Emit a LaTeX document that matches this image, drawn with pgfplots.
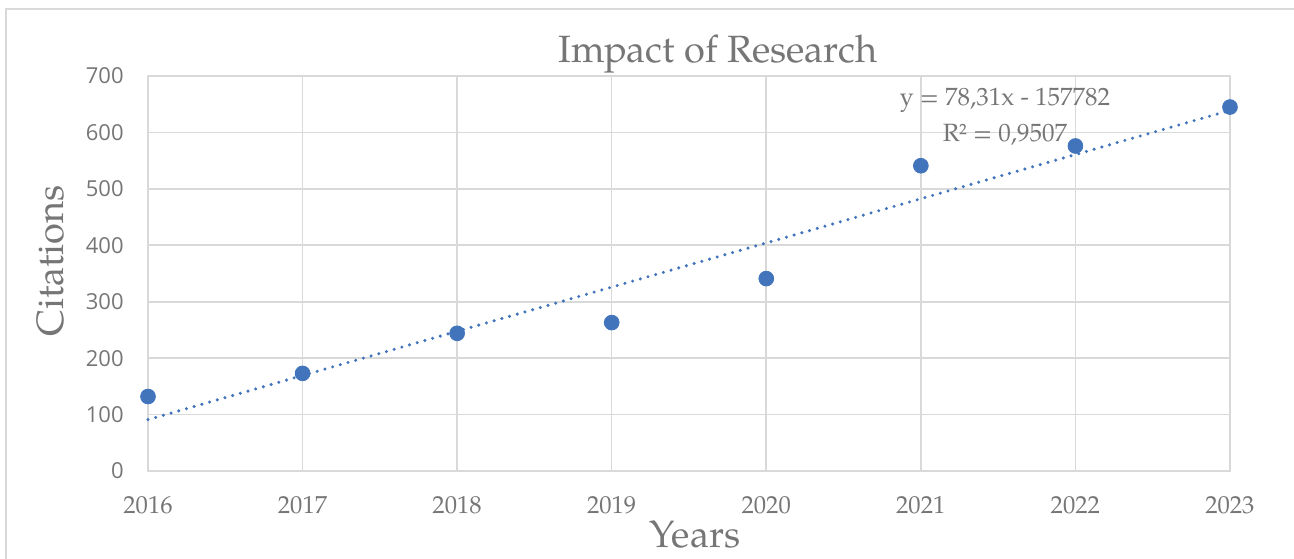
\documentclass[border=0pt]{standalone}
\usepackage{fontspec}
\setmainfont{TeX Gyre Pagella}
\newfontfamily\tickfont{Open Sans}
\usepackage{pgfplots}
\pgfplotsset{compat=1.18}
\definecolor{txt}{RGB}{118,118,118}
\definecolor{gridc}{RGB}{217,217,217}
\definecolor{blu}{RGB}{66,116,188}
\begin{document}
\begin{tikzpicture}
\useasboundingbox (0,0) rectangle (647pt,279pt);
\draw[gridc, line width=0.9pt] (3pt,-2pt) -- (3pt,274.5pt) -- (650pt,274.5pt);
\begin{axis}[at={(74pt,43.5pt)}, anchor=south west, scale only axis,
  width=541pt, height=197.5pt,
  xmin=2016, xmax=2023, ymin=0, ymax=700,
  xtick={2016,...,2023}, ytick={0,100,...,700},
  grid=major, grid style={gridc, line width=0.8pt},
  axis line style={gridc, line width=0.8pt},
  major tick length=0pt,
  /pgf/number format/1000 sep={},
  xticklabel style={font=\fontsize{12.3}{14}\selectfont, text=txt, anchor=base, inner sep=0pt, yshift=-21pt, /pgf/number format/assume math mode=true},
  yticklabel style={font=\tickfont\fontsize{11}{13}\selectfont, text=txt, anchor=east, inner sep=0pt, xshift=-12pt, /pgf/number format/assume math mode=true},
  clip=false]
\addplot[blu, line width=1.7pt, line cap=round, dash pattern=on 0pt off 4pt] coordinates {(2016,90.96) (2023,639.13)};
\addplot[only marks, mark=*, mark size=3.7pt, mark options={draw=blu, fill=blu}] coordinates {
(2016,132) (2017,173) (2018,244) (2019,263) (2020,341) (2021,541) (2022,576) (2023,645)};
\end{axis}
\node[anchor=base, text=txt, font=\fontsize{19}{22}\selectfont, inner sep=0pt] at (359pt,247.5pt) {Impact of Research};
\node[anchor=base, text=txt, font=\fontsize{19}{22}\selectfont, inner sep=0pt] at (347.5pt,5.5pt) {Years};
\node[anchor=base, rotate=90, text=txt, font=\fontsize{19}{22}\selectfont, inner sep=0pt] at (31.5pt,148.5pt) {Citations};
\node[anchor=base, text=txt, font=\fontsize{12.5}{15}\selectfont, inner sep=0pt] at (502.5pt,226pt) {y = 78,31x - 157782};
\node[anchor=base, text=txt, font=\fontsize{12.5}{15}\selectfont, inner sep=0pt] at (502.5pt,208pt) {R² = 0,9507};
\end{tikzpicture}
\end{document}
